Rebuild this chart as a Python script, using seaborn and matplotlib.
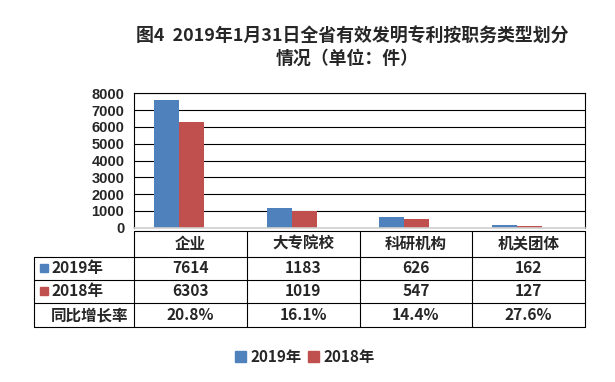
import numpy as np
import pandas as pd
import matplotlib
matplotlib.use("Agg")
import matplotlib.pyplot as plt
import seaborn as sns
from matplotlib.patches import Rectangle

# data
categories = ["企业", "大专院校", "科研机构", "机关团体"]
vals_2019 = [7614, 1183, 626, 162]
vals_2018 = [6303, 1019, 547, 127]
growth = ["20.8%", "16.1%", "14.4%", "27.6%"]
series = ["2019年", "2018年"]
colors = ["#4F81BD", "#C0504D"]
y_ticks = [0, 1000, 2000, 3000, 4000, 5000, 6000, 7000, 8000]

df = pd.DataFrame({"类型": categories * 2,
                   "数量": vals_2019 + vals_2018,
                   "年份": [series[0]] * 4 + [series[1]] * 4})

sns.set_style("white")
CJK = ["Noto Sans CJK SC", "DejaVu Sans"]
plt.rcParams["font.family"] = CJK

W, H = 615, 382
fig = plt.figure(figsize=(W / 100, H / 100), dpi=100)

# plot area in pixels
L, R, T, B = 134, 585, 93.3, 227.7
ax = fig.add_axes([L / W, 1 - B / H, (R - L) / W, (B - T) / H])

sns.barplot(data=df, x="类型", y="数量", hue="年份", palette=colors,
            width=0.443, gap=0, saturation=1, ax=ax, legend=False)
# bars sit left of the category centre in the original
for p in ax.patches:
    p.set_x(p.get_x() - 0.102)
    p.set_linewidth(0)

ax.set_xlim(-0.5, 3.5)
ax.set_ylim(0, 8000)
ax.set_yticks(y_ticks)
ax.set_yticklabels([str(v) for v in y_ticks], fontfamily="Liberation Sans",
                   fontweight="bold", fontsize=10.5)
ax.tick_params(axis="y", length=0, pad=7)
ax.set_xticks([])
ax.set_xlabel("")
ax.set_ylabel("")
ax.yaxis.grid(True, color="black", linewidth=0.8)
ax.set_axisbelow(True)
for side in ["top", "left", "right"]:
    ax.spines[side].set_color("black")
    ax.spines[side].set_linewidth(0.8)
ax.spines["bottom"].set_color("#D0D0D0")
ax.spines["bottom"].set_linewidth(1.2)

# title
fig.text(352 / W, 1 - 35.7 / H, "图4  2019年1月31日全省有效发明专利按职务类型划分",
         ha="center", va="center", fontsize=12.9, fontweight="heavy")
fig.text(347 / W, 1 - 58.3 / H, "情况（单位：件）",
         ha="center", va="center", fontsize=12.9, fontweight="heavy")

# data table
tx0, tx1, ty0, ty1 = 34, 585, 230.7, 327
tab = fig.add_axes([tx0 / W, 1 - ty1 / H, (tx1 - tx0) / W, (ty1 - ty0) / H])
tab.set_xlim(tx0, tx1)
tab.set_ylim(ty1, ty0)
tab.axis("off")
rows_y = [230.7, 256.6, 279.6, 303.3, 327]
cw = (R - L) / len(categories)
col_x = [L + cw * i for i in range(len(categories) + 1)]
lw = 0.8
tab.plot([L, R], [rows_y[0], rows_y[0]], color="black", lw=lw, clip_on=False)
for y in rows_y[1:]:
    tab.plot([tx0, R], [y, y], color="black", lw=lw, clip_on=False)
tab.plot([tx0, tx0], [rows_y[1], rows_y[-1]], color="black", lw=lw, clip_on=False)
for x in col_x:
    tab.plot([x, x], [rows_y[0], rows_y[-1]], color="black", lw=lw, clip_on=False)

tfs = 11.2
for i, cat in enumerate(categories):
    cx = col_x[i] + cw / 2
    tab.text(cx, (rows_y[0] + rows_y[1]) / 2, cat, ha="center", va="center",
             fontsize=tfs, fontweight="bold")
    tab.text(cx, (rows_y[1] + rows_y[2]) / 2, str(vals_2019[i]), ha="center",
             va="center", fontsize=tfs, fontweight="bold")
    tab.text(cx, (rows_y[2] + rows_y[3]) / 2, str(vals_2018[i]), ha="center",
             va="center", fontsize=tfs, fontweight="bold")
    tab.text(cx, (rows_y[3] + rows_y[4]) / 2, growth[i], ha="center",
             va="center", fontsize=tfs, fontweight="bold")

row_labels = series + ["同比增长率"]
for j, lab in enumerate(row_labels):
    cy = (rows_y[j + 1] + rows_y[j + 2]) / 2
    if j < 2:
        tab.add_patch(Rectangle((40, cy - 4), 8, 8, color=colors[j], clip_on=False))
    tab.text(51, cy, lab, ha="left", va="center", fontsize=tfs, fontweight="bold")

# legend
handles = [Rectangle((0, 0), 1, 1, color=c) for c in colors]
fig.legend(handles, series, loc="center", bbox_to_anchor=(305 / W, 1 - 356.7 / H),
           ncol=2, frameon=False, prop={"family": CJK, "weight": "bold", "size": 11},
           handlelength=0.72, handleheight=0.72, handletextpad=0.3,
           columnspacing=0.4, borderpad=0)

fig.savefig("out.png", dpi=100)
